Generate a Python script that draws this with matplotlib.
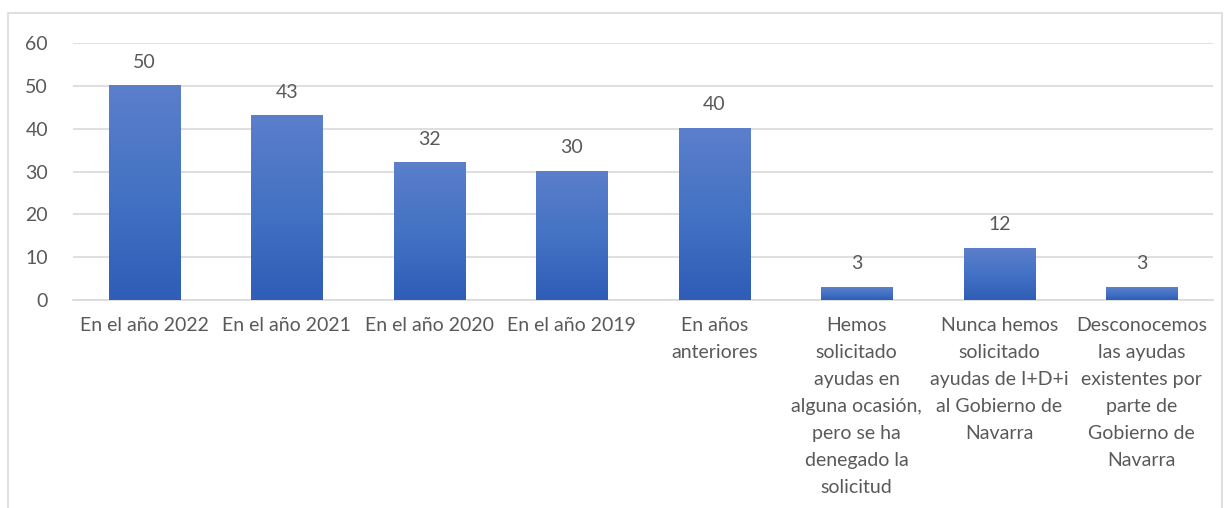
import numpy as np
import matplotlib
matplotlib.use("Agg")
import matplotlib.pyplot as plt
from matplotlib.colors import LinearSegmentedColormap
from matplotlib.patches import Rectangle

# ===============================
# Data
# ===============================
categories = [
    "En el año 2022",
    "En el año 2021",
    "En el año 2020",
    "En el año 2019",
    "En años\nanteriores",
    "Hemos\nsolicitado\nayudas en\nalguna ocasión,\npero se ha\ndenegado la\nsolicitud",
    "Nunca hemos\nsolicitado\nayudas de I+D+i\nal Gobierno de\nNavarra",
    "Desconocemos\nlas ayudas\nexistentes por\nparte de\nGobierno de\nNavarra",
]
values = [50, 43, 32, 30, 40, 3, 12, 3]
yticks = [0, 10, 20, 30, 40, 50, 60]

TEXT = "#595959"
GRID = "#D9D9D9"
FS = 14

plt.rcParams["font.family"] = ["Lato", "DejaVu Sans"]

fig = plt.figure(figsize=(12.28, 5.08), dpi=100)
ax = fig.add_axes([0.0594, 0.4094, 0.9284, 0.506])

x = np.arange(len(values))
bars = ax.bar(x, values, width=0.5, color="none", zorder=3)

# gradient fill for each bar (lighter top, darker bottom)
cmap = LinearSegmentedColormap.from_list("blu", ["#2F5DB7", "#4472C4", "#5B7FCB"])
grad = np.linspace(0, 1, 256).reshape(-1, 1)
for b in bars:
    x0, w, h = b.get_x(), b.get_width(), b.get_height()
    ax.imshow(grad, cmap=cmap, origin="lower", aspect="auto",
              extent=[x0, x0 + w, 0, h], zorder=3)
    ax.annotate(str(int(h)), (x0 + w / 2, h), xytext=(0, 11),
                textcoords="offset points", ha="center", va="bottom",
                fontsize=FS, color=TEXT)

ax.set_xlim(-0.5, len(values) - 0.5)
ax.set_ylim(0, 60)
ax.set_yticks(yticks)
ax.set_xticks(x)
ax.set_xticklabels(categories, linespacing=1.72, va="top")
ax.tick_params(axis="both", length=0, labelsize=FS, colors=TEXT)
ax.tick_params(axis="x", pad=12)
ax.tick_params(axis="y", pad=18)
ax.yaxis.grid(True, color=GRID, linewidth=1.2, zorder=0)
ax.set_axisbelow(True)
for s in ["top", "right", "left"]:
    ax.spines[s].set_visible(False)
ax.spines["bottom"].set_color(GRID)
ax.spines["bottom"].set_linewidth(1.2)

# outer chart border
fig.patches.append(Rectangle((8 / 1228, -0.05), 1214 / 1228, 1.05 - 13 / 508,
                             transform=fig.transFigure, fill=False,
                             edgecolor=GRID, linewidth=1.2))

fig.savefig("out.png", dpi=100)
